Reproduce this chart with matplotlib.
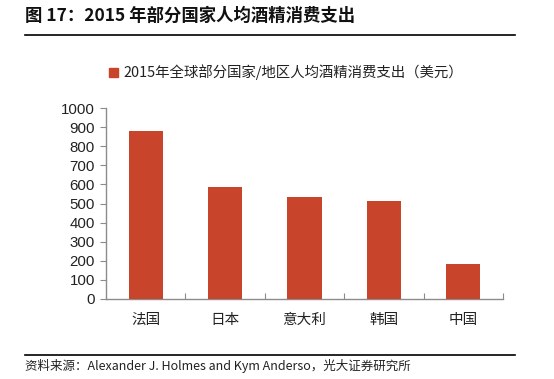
import matplotlib
matplotlib.use("Agg")
import matplotlib.pyplot as plt
from matplotlib.lines import Line2D

plt.rcParams['font.family'] = ['Noto Sans CJK SC', 'DejaVu Sans']

categories = ["法国", "日本", "意大利", "韩国", "中国"]
values = [880, 586, 532, 514, 183]
yticks = [0, 100, 200, 300, 400, 500, 600, 700, 800, 900, 1000]
title = "图 17：2015 年部分国家人均酒精消费支出"
legend_label = "2015年全球部分国家/地区人均酒精消费支出（美元）"
source = "资料来源：Alexander J. Holmes and Kym Anderso，光大证券研究所"

bar_color = "#C8442A"
axis_color = "#8C8C8C"

W, H = 554, 379
fig = plt.figure(figsize=(W / 100, H / 100), dpi=100)

def fx(px):
    return px / W

def fy(py):
    return 1 - py / H

ax = fig.add_axes([fx(106), fy(299), fx(503) - fx(106), fy(108) - fy(299)])
x = list(range(len(categories)))
ax.bar(x, values, width=0.43, color=bar_color, zorder=3)
ax.set_xlim(-0.5, len(categories) - 0.5)
ax.set_ylim(0, 1000)
ax.set_yticks(yticks)
ax.set_yticklabels([str(v) for v in yticks], fontfamily='Liberation Sans', fontsize=10.8, color="#222222")
ax.set_xticks(x)
ax.set_xticklabels(categories, fontsize=10.5, color="#222222")
ax.tick_params(axis='x', length=0, pad=10)
ax.tick_params(axis='y', length=4, width=0.8, color=axis_color, pad=4)
ax.set_xticks([i + 0.5 for i in range(len(categories))], minor=True)
ax.tick_params(axis='x', which='minor', direction='in', length=4, width=0.8, color=axis_color)
for s in ['top', 'right']:
    ax.spines[s].set_visible(False)
for s in ['left', 'bottom']:
    ax.spines[s].set_color(axis_color)
    ax.spines[s].set_linewidth(1.0)

fig.text(fx(25), fy(16), title, fontsize=12.5, fontweight='bold', va='center', ha='left', color="#111111")
fig.add_artist(Line2D([fx(25), fx(515)], [fy(35), fy(35)], color='black', lw=1.2))

fig.add_artist(plt.Rectangle((fx(109), fy(77)), fx(9), fy(68) - fy(77), color=bar_color, transform=fig.transFigure))
fig.text(fx(123), fy(72), legend_label, fontsize=10.4, va='center', ha='left', color="#222222")

fig.add_artist(Line2D([fx(25), fx(515)], [fy(355), fy(355)], color='black', lw=1.2))
fig.text(fx(25), fy(366), source, fontsize=9, va='center', ha='left', color="#222222")

fig.savefig("out.png", dpi=100)
